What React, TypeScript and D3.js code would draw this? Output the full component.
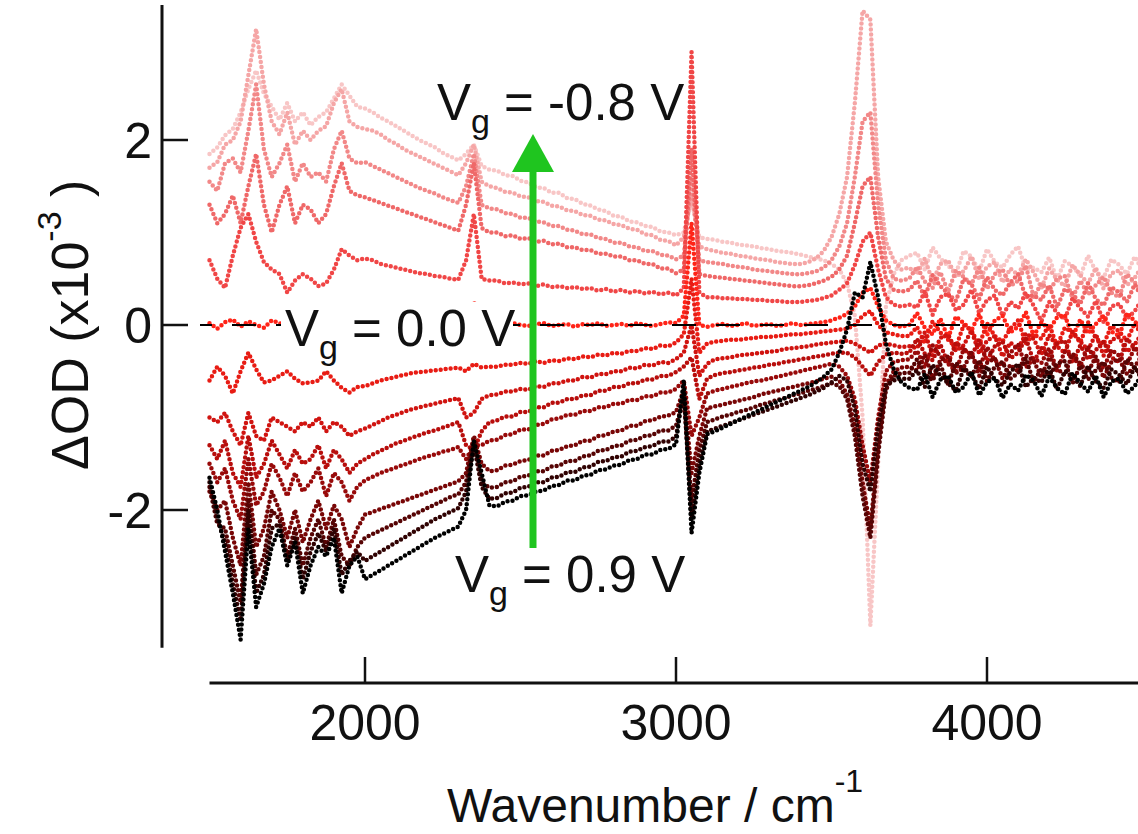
import React from "react";
import * as d3 from "d3";

// Wavenumber grid (cm^-1), 25 cm^-1 sampling
const wavenumbers: number[] = d3.range(1500, 4501, 25);

const gateVoltages = ["-0.8", "-0.7", "-0.6", "-0.5", "-0.3", "0.0", "0.2", "0.3", "0.4", "0.5", "0.6", "0.7", "0.8", "0.9"];
const seriesColors = ["#f8c6c6", "#f5a6a6", "#f28888", "#ef6868", "#f04646", "#ff2418", "#e81c14", "#d01410", "#b80e0c", "#980a0a", "#780606", "#560404", "#300202", "#000000"];

// ΔOD (x10^-3) for each gate voltage
const vgM08 = [1.85,1.92,2.05,2.12,2.3,2.55,2.75,2.5,2.36,2.22,2.4,2.2,2.3,2.16,2.25,2.3,2.45,2.6,2.48,2.36,2.34,
  2.3,2.24,2.2,2.15,2.1,2.05,2.0,1.96,1.92,1.86,1.82,1.78,1.85,1.95,1.72,1.68,
  1.67,1.62,1.61,1.56,1.54,1.49,1.48,1.43,1.43,1.37,1.36,1.31,1.29,1.25,1.23,1.18,1.17,1.12,1.11,1.07,1.06,1.01,1.0,0.97,
  1.0,1.35,0.95,0.93,
  0.92,0.9,0.89,0.87,0.86,0.85,0.83,0.82,0.8,0.79,0.78,0.76,0.74,0.72,0.7,0.66,
  0.6,0.45,0.1,-1.0,-3.25,-1.5,0.2,0.55,0.7,0.75,
  0.78,0.6,0.84,0.72,0.64,0.56,0.8,0.74,0.58,0.82,0.68,0.62,0.76,0.85,0.6,
  0.62,0.57,0.73,0.49,0.69,0.64,0.53,0.75,0.58,0.51,0.71,0.65,0.55,0.74,0.59];
const vgM07 = [1.7,1.76,1.95,2.0,2.2,2.7,3.2,2.6,2.2,2.06,2.3,1.95,2.1,2.0,2.1,2.15,2.4,2.55,2.2,2.14,2.12,
  2.1,2.06,2.0,1.96,1.9,1.86,1.82,1.78,1.74,1.7,1.66,1.62,1.75,1.95,1.55,1.5,
  1.48,1.44,1.43,1.39,1.38,1.34,1.33,1.29,1.28,1.24,1.23,1.19,1.18,1.14,1.13,1.09,1.08,1.04,1.03,0.98,0.97,0.92,0.91,0.86,
  0.95,1.4,0.85,0.82,
  0.8,0.78,0.77,0.75,0.74,0.72,0.71,0.7,0.68,0.67,0.66,0.66,0.68,0.72,0.8,0.95,
  1.2,1.6,2.4,3.4,3.3,1.6,0.9,0.7,0.6,0.62,
  0.55,0.72,0.47,0.66,0.7,0.52,0.58,0.74,0.49,0.63,0.68,0.46,0.61,0.54,0.71,
  0.57,0.4,0.61,0.49,0.42,0.65,0.54,0.45,0.62,0.39,0.56,0.59,0.43,0.51,0.64];
const vgM06 = [1.55,1.45,1.75,1.8,1.65,2.1,2.6,1.9,1.6,1.75,1.95,1.55,1.75,1.6,1.65,1.55,1.9,2.1,1.8,1.75,1.76,
  1.72,1.68,1.64,1.6,1.56,1.52,1.48,1.45,1.42,1.38,1.35,1.32,1.5,1.85,1.3,1.26,
  1.25,1.21,1.2,1.16,1.16,1.12,1.11,1.07,1.07,1.03,1.02,0.98,0.98,0.94,0.93,0.89,0.89,0.85,0.84,0.8,0.8,0.76,0.75,0.71,
  0.75,1.6,0.7,0.68,
  0.67,0.66,0.64,0.63,0.62,0.6,0.59,0.58,0.57,0.56,0.55,0.55,0.56,0.58,0.62,0.7,
  0.85,1.1,1.6,2.2,2.3,1.3,0.7,0.5,0.48,0.5,
  0.63,0.47,0.4,0.57,0.36,0.59,0.52,0.44,0.62,0.39,0.55,0.6,0.42,0.48,0.64,
  0.3,0.45,0.37,0.5,0.53,0.29,0.48,0.33,0.43,0.52,0.35,0.3,0.55,0.46,0.36];
const vgM05 = [1.3,1.1,1.2,1.4,1.1,1.5,1.85,1.3,1.0,1.3,1.5,1.1,1.3,1.25,1.1,1.2,1.5,1.75,1.45,1.4,1.38,
  1.35,1.32,1.29,1.26,1.23,1.2,1.17,1.14,1.11,1.08,1.05,1.02,1.3,1.75,1.05,1.0,
  1.0,0.96,0.97,0.93,0.94,0.9,0.91,0.87,0.88,0.84,0.84,0.81,0.81,0.77,0.77,0.74,0.74,0.7,0.7,0.66,0.66,0.61,0.61,0.56,
  0.6,1.9,0.55,0.53,
  0.52,0.51,0.5,0.49,0.48,0.47,0.46,0.45,0.44,0.43,0.42,0.42,0.43,0.45,0.48,0.52,
  0.6,0.75,1.1,1.5,1.6,0.95,0.5,0.38,0.36,0.38,
  0.48,0.3,0.54,0.42,0.34,0.26,0.5,0.44,0.28,0.52,0.38,0.32,0.46,0.55,0.3,
  0.32,0.27,0.43,0.19,0.39,0.34,0.23,0.45,0.28,0.21,0.41,0.35,0.25,0.44,0.29];
const vgM03 = [0.7,0.5,0.4,0.75,1.05,1.2,0.9,0.68,0.6,0.55,0.35,0.48,0.55,0.5,0.42,0.45,0.6,0.82,0.75,0.7,0.72,
  0.7,0.66,0.64,0.62,0.6,0.58,0.56,0.55,0.53,0.52,0.5,0.49,0.7,1.2,0.5,0.48,
  0.48,0.45,0.46,0.44,0.45,0.42,0.44,0.41,0.42,0.4,0.41,0.39,0.4,0.37,0.39,0.36,0.38,0.35,0.37,0.34,0.36,0.33,0.35,0.32,
  0.4,2.95,0.35,0.3,
  0.3,0.29,0.29,0.28,0.28,0.27,0.27,0.26,0.26,0.25,0.25,0.25,0.26,0.27,0.29,0.32,
  0.38,0.45,0.65,0.9,1.0,0.6,0.3,0.22,0.2,0.22,
  0.19,0.36,0.11,0.3,0.34,0.16,0.22,0.38,0.13,0.27,0.32,0.1,0.25,0.18,0.35,
  0.21,0.04,0.25,0.13,0.06,0.29,0.18,0.09,0.26,0.03,0.2,0.23,0.07,0.15,0.28];
const vg00 = [0.02,-0.04,0.03,0.06,-0.02,0.04,0.0,-0.03,0.05,0.02,-0.02,0.03,0.0,-0.02,0.02,0.0,0.03,-0.02,0.01,0.0,0.02,
  0.0,0.01,-0.01,0.02,0.0,-0.01,0.01,0.0,-0.02,0.01,0.0,0.02,0.1,0.25,0.02,0.0,
  0.01,-0.01,0.02,0.0,-0.01,0.01,0.02,-0.01,0.0,0.01,-0.02,0.01,0.0,0.02,-0.01,0.0,0.01,-0.01,0.02,0.0,-0.01,0.01,0.03,0.02,
  0.1,1.1,0.0,-0.02,
  0.0,0.01,-0.01,0.0,0.02,-0.01,0.0,0.01,-0.01,0.0,0.02,0.0,0.01,0.02,0.03,0.05,
  0.08,0.12,0.2,0.35,0.4,0.2,0.05,0.0,-0.02,0.0,
  0.13,-0.03,-0.1,0.07,-0.14,0.09,0.02,-0.06,0.12,-0.11,0.05,0.1,-0.08,-0.02,0.14,
  -0.12,0.03,-0.05,0.08,0.11,-0.13,0.06,-0.09,0.01,0.1,-0.07,-0.12,0.13,0.04,-0.06];
const vg02 = [-0.6,-0.45,-0.55,-0.74,-0.5,-0.3,-0.48,-0.62,-0.6,-0.55,-0.5,-0.58,-0.63,-0.62,-0.6,-0.5,-0.6,-0.68,-0.73,-0.67,-0.66,
  -0.63,-0.6,-0.58,-0.56,-0.54,-0.52,-0.51,-0.5,-0.49,-0.48,-0.47,-0.46,-0.5,-0.42,-0.46,-0.45,
  -0.45,-0.43,-0.43,-0.41,-0.42,-0.39,-0.41,-0.38,-0.39,-0.36,-0.37,-0.34,-0.35,-0.32,-0.33,-0.3,-0.31,-0.28,-0.28,-0.25,-0.26,-0.22,-0.23,-0.19,
  -0.1,0.5,-0.3,-0.2,
  -0.18,-0.17,-0.16,-0.16,-0.15,-0.14,-0.13,-0.13,-0.12,-0.11,-0.1,-0.1,-0.09,-0.08,-0.07,-0.06,
  -0.05,-0.04,0.0,0.1,0.15,0.0,-0.08,-0.1,-0.12,-0.12,
  -0.02,-0.2,0.04,-0.08,-0.16,-0.24,0.0,-0.06,-0.22,0.02,-0.12,-0.18,-0.04,0.05,-0.2,
  -0.1,-0.15,0.01,-0.23,-0.03,-0.08,-0.19,0.03,-0.14,-0.21,-0.01,-0.07,-0.17,0.02,-0.13];
const vg03 = [-1.0,-1.05,-0.95,-1.15,-1.3,-0.95,-1.2,-1.25,-1.0,-1.05,-1.1,-1.15,-1.05,-1.1,-1.0,-1.15,-1.05,-1.1,-1.2,-1.15,-1.12,
  -1.08,-1.04,-1.0,-0.97,-0.94,-0.91,-0.89,-0.87,-0.85,-0.83,-0.81,-0.79,-1.0,-0.95,-0.8,-0.76,
  -0.75,-0.72,-0.72,-0.69,-0.7,-0.66,-0.67,-0.63,-0.63,-0.6,-0.6,-0.56,-0.57,-0.53,-0.53,-0.5,-0.5,-0.46,-0.47,-0.43,-0.44,-0.4,-0.41,-0.37,
  -0.3,0.0,-0.55,-0.42,
  -0.37,-0.36,-0.35,-0.33,-0.32,-0.31,-0.3,-0.29,-0.28,-0.26,-0.25,-0.24,-0.23,-0.21,-0.2,-0.19,
  -0.18,-0.17,-0.2,-0.25,-0.3,-0.22,-0.2,-0.22,-0.24,-0.23,
  -0.25,-0.08,-0.33,-0.14,-0.1,-0.28,-0.22,-0.06,-0.31,-0.17,-0.12,-0.34,-0.19,-0.26,-0.09,
  -0.15,-0.32,-0.11,-0.23,-0.3,-0.07,-0.18,-0.27,-0.1,-0.33,-0.16,-0.13,-0.29,-0.21,-0.08];
const vg04 = [-1.3,-1.45,-1.25,-1.6,-1.75,-1.2,-1.65,-1.5,-1.25,-1.4,-1.55,-1.35,-1.5,-1.45,-1.3,-1.55,-1.35,-1.45,-1.6,-1.5,-1.45,
  -1.4,-1.36,-1.32,-1.28,-1.25,-1.22,-1.19,-1.16,-1.14,-1.11,-1.08,-1.05,-1.3,-1.35,-1.15,-1.05,
  -1.03,-0.99,-0.99,-0.94,-0.94,-0.89,-0.89,-0.84,-0.84,-0.8,-0.8,-0.76,-0.76,-0.71,-0.71,-0.67,-0.67,-0.63,-0.63,-0.59,-0.59,-0.55,-0.55,-0.51,
  -0.45,-0.35,-0.8,-0.58,
  -0.54,-0.52,-0.51,-0.49,-0.48,-0.46,-0.45,-0.43,-0.42,-0.4,-0.39,-0.37,-0.36,-0.34,-0.33,-0.31,
  -0.3,-0.3,-0.35,-0.45,-0.55,-0.4,-0.32,-0.3,-0.31,-0.3,
  -0.15,-0.31,-0.38,-0.21,-0.42,-0.19,-0.26,-0.34,-0.16,-0.39,-0.23,-0.18,-0.36,-0.3,-0.14,
  -0.4,-0.25,-0.33,-0.2,-0.17,-0.41,-0.22,-0.37,-0.27,-0.18,-0.35,-0.4,-0.15,-0.24,-0.34];
const vg05 = [-1.5,-1.7,-1.55,-1.9,-2.1,-1.45,-1.95,-1.8,-1.5,-1.65,-1.85,-1.6,-1.8,-1.7,-1.55,-1.85,-1.6,-1.7,-1.9,-1.75,-1.68,
  -1.64,-1.6,-1.57,-1.54,-1.51,-1.48,-1.45,-1.42,-1.4,-1.37,-1.35,-1.32,-1.45,-1.3,-1.3,-1.25,
  -1.24,-1.19,-1.18,-1.13,-1.13,-1.08,-1.07,-1.02,-1.01,-0.97,-0.97,-0.93,-0.93,-0.89,-0.89,-0.85,-0.85,-0.81,-0.81,-0.77,-0.77,-0.73,-0.73,-0.69,
  -0.6,-1.2,-1.0,-0.74,
  -0.71,-0.69,-0.67,-0.65,-0.63,-0.61,-0.6,-0.58,-0.56,-0.54,-0.52,-0.5,-0.48,-0.46,-0.44,-0.42,
  -0.45,-0.55,-0.8,-1.3,-1.7,-1.0,-0.5,-0.4,-0.38,-0.37,
  -0.28,-0.46,-0.22,-0.34,-0.42,-0.5,-0.26,-0.32,-0.48,-0.24,-0.38,-0.44,-0.3,-0.21,-0.46,
  -0.36,-0.41,-0.25,-0.49,-0.29,-0.34,-0.45,-0.23,-0.4,-0.47,-0.27,-0.33,-0.43,-0.24,-0.39];
const vg06 = [-1.8,-2.0,-1.9,-2.3,-2.6,-1.7,-2.4,-2.2,-1.8,-2.0,-2.3,-2.0,-2.35,-2.1,-1.9,-2.2,-1.95,-2.1,-2.4,-2.2,-2.05,
  -2.02,-1.99,-1.96,-1.93,-1.9,-1.87,-1.84,-1.81,-1.78,-1.75,-1.72,-1.69,-1.6,-1.2,-1.5,-1.58,
  -1.57,-1.52,-1.51,-1.47,-1.46,-1.41,-1.41,-1.36,-1.35,-1.31,-1.3,-1.25,-1.25,-1.2,-1.19,-1.15,-1.14,-1.09,-1.09,-1.04,-1.03,-0.99,-0.98,-0.94,
  -0.7,-1.6,-1.2,-0.9,
  -0.88,-0.86,-0.84,-0.82,-0.8,-0.78,-0.75,-0.73,-0.71,-0.69,-0.67,-0.65,-0.63,-0.61,-0.58,-0.56,
  -0.6,-0.75,-1.1,-1.7,-2.2,-1.3,-0.65,-0.5,-0.46,-0.45,
  -0.49,-0.32,-0.57,-0.38,-0.34,-0.52,-0.46,-0.3,-0.55,-0.41,-0.36,-0.58,-0.43,-0.5,-0.33,
  -0.39,-0.56,-0.35,-0.47,-0.54,-0.31,-0.42,-0.51,-0.34,-0.57,-0.4,-0.37,-0.53,-0.45,-0.32];
const vg07 = [-1.75,-2.15,-2.2,-2.6,-3.0,-1.9,-2.7,-2.5,-2.0,-2.1,-2.5,-2.2,-2.6,-2.3,-2.1,-2.4,-2.1,-2.5,-2.6,-2.4,-2.3,
  -2.26,-2.22,-2.18,-2.14,-2.1,-2.06,-2.02,-1.98,-1.94,-1.9,-1.86,-1.83,-1.7,-1.25,-1.7,-1.76,
  -1.75,-1.7,-1.69,-1.64,-1.63,-1.58,-1.58,-1.53,-1.52,-1.47,-1.47,-1.42,-1.41,-1.36,-1.35,-1.31,-1.3,-1.25,-1.24,-1.2,-1.19,-1.14,-1.14,-1.09,
  -0.8,-1.9,-1.35,-1.05,
  -1.02,-0.99,-0.97,-0.94,-0.92,-0.89,-0.86,-0.84,-0.81,-0.79,-0.76,-0.74,-0.71,-0.69,-0.66,-0.63,
  -0.66,-0.8,-1.2,-1.85,-2.3,-1.4,-0.7,-0.55,-0.52,-0.52,
  -0.37,-0.53,-0.6,-0.43,-0.64,-0.41,-0.48,-0.56,-0.38,-0.61,-0.45,-0.4,-0.58,-0.52,-0.36,
  -0.62,-0.47,-0.55,-0.42,-0.39,-0.63,-0.44,-0.59,-0.49,-0.4,-0.57,-0.62,-0.37,-0.46,-0.56];
const vg08 = [-1.7,-2.1,-2.35,-2.8,-3.2,-2.0,-2.9,-2.7,-2.2,-2.15,-2.55,-2.3,-2.75,-2.45,-2.25,-2.45,-2.2,-2.7,-2.55,-2.45,-2.55,
  -2.5,-2.45,-2.4,-2.35,-2.3,-2.25,-2.2,-2.15,-2.1,-2.06,-2.02,-1.98,-1.8,-1.3,-1.75,-1.88,
  -1.87,-1.82,-1.81,-1.76,-1.75,-1.7,-1.7,-1.65,-1.64,-1.59,-1.59,-1.54,-1.53,-1.48,-1.47,-1.43,-1.42,-1.37,-1.36,-1.32,-1.31,-1.26,-1.26,-1.21,
  -0.7,-2.1,-1.5,-1.15,
  -1.12,-1.09,-1.06,-1.03,-1.0,-0.97,-0.94,-0.91,-0.88,-0.85,-0.82,-0.79,-0.76,-0.72,-0.68,-0.62,
  -0.55,-0.6,-0.9,-1.5,-1.8,-1.1,-0.65,-0.6,-0.58,-0.58,
  -0.49,-0.67,-0.43,-0.55,-0.63,-0.71,-0.47,-0.53,-0.69,-0.45,-0.59,-0.65,-0.51,-0.42,-0.67,
  -0.57,-0.62,-0.46,-0.7,-0.5,-0.55,-0.66,-0.44,-0.61,-0.68,-0.48,-0.54,-0.64,-0.45,-0.6];
const vg09 = [-1.65,-2.0,-2.45,-2.9,-3.4,-2.2,-3.05,-2.8,-2.4,-2.2,-2.6,-2.35,-2.9,-2.6,-2.4,-2.5,-2.3,-2.9,-2.6,-2.5,-2.75,
  -2.7,-2.65,-2.6,-2.55,-2.5,-2.45,-2.4,-2.35,-2.3,-2.26,-2.22,-2.18,-2.0,-1.25,-1.6,-1.95,
  -1.96,-1.91,-1.9,-1.85,-1.84,-1.8,-1.79,-1.74,-1.73,-1.68,-1.68,-1.63,-1.62,-1.57,-1.56,-1.52,-1.51,-1.46,-1.45,-1.4,-1.4,-1.35,-1.34,-1.29,
  -0.6,-2.25,-1.6,-1.18,
  -1.15,-1.11,-1.07,-1.03,-0.99,-0.95,-0.91,-0.87,-0.83,-0.79,-0.75,-0.71,-0.67,-0.62,-0.56,-0.48,
  -0.3,-0.05,0.35,0.3,0.68,0.3,-0.2,-0.48,-0.62,-0.68,
  -0.7,-0.53,-0.78,-0.59,-0.55,-0.73,-0.67,-0.51,-0.76,-0.62,-0.57,-0.79,-0.64,-0.71,-0.54,
  -0.6,-0.77,-0.56,-0.68,-0.75,-0.52,-0.63,-0.72,-0.55,-0.78,-0.61,-0.58,-0.74,-0.66,-0.53];

const spectra = [vgM08, vgM07, vgM06, vgM05, vgM03, vg00, vg02, vg03, vg04, vg05, vg06, vg07, vg08, vg09];

const xTicks = [2000, 3000, 4000];
const yTicks = [-2, 0, 2];

const FONT = "'Liberation Sans', Arial, Helvetica, sans-serif";

export default function App() {
  const W = 1138;
  const H = 834;
  const x = d3.scaleLinear().domain([1500, 4500]).range([209.5, 1142.5]);
  const y = d3.scaleLinear().domain([-3.5, 3.5]).range([648.75, 1.25]);
  const line = d3
    .line<number>()
    .x((_, i) => x(wavenumbers[i]))
    .y((d) => y(d));

  const axisLeftX = 162;
  const axisBottomY = 683;
  const tickLen = 26;

  return (
    <svg
      width={W}
      height={H}
      viewBox={`0 0 ${W} ${H}`}
      style={{ position: "absolute", left: 0, top: 0, background: "#fff" }}
      fontFamily={FONT}
    >
      <defs>
        <clipPath id="plotClip">
          <rect x={200} y={0} width={W - 200} height={660} />
        </clipPath>
      </defs>
      <rect x={0} y={0} width={W} height={H} fill="#fff" />

      <g clipPath="url(#plotClip)">
        {spectra.map((vals, k) => (
          <path
            key={gateVoltages[k]}
            d={line(vals.slice(0, wavenumbers.length)) || ""}
            fill="none"
            stroke={seriesColors[k]}
            strokeWidth={4.5}
            strokeLinecap="round"
            strokeLinejoin="round"
            strokeDasharray="0 5"
          />
        ))}
        {/* zero reference line */}
        <line
          x1={axisLeftX + tickLen}
          x2={W}
          y1={y(0)}
          y2={y(0)}
          stroke="#000"
          strokeWidth={2}
          strokeDasharray="24 20"
        />
      </g>

      {/* white box behind the 0.0 V label */}
      <rect x={281} y={302} width={232} height={52} fill="#fff" />

      {/* annotation labels */}
      <text x={437} y={120} fontSize={51} fill="#111">
        V<tspan fontSize={34} dy={13}>g</tspan>
        <tspan dy={-13}>{" = -0.8 V"}</tspan>
      </text>
      <text x={285} y={346} fontSize={51} fill="#111">
        V<tspan fontSize={34} dy={13}>g</tspan>
        <tspan dy={-13}>{" = 0.0 V"}</tspan>
      </text>
      <text x={455} y={592} fontSize={51} fill="#111">
        V<tspan fontSize={34} dy={13}>g</tspan>
        <tspan dy={-13}>{" = 0.9 V"}</tspan>
      </text>

      {/* green arrow */}
      <line x1={533} x2={533} y1={548} y2={168} stroke="#1fc51f" strokeWidth={7} />
      <polygon points="533,134 512,172 554,172" fill="#1fc51f" />

      {/* y axis */}
      <line x1={axisLeftX} x2={axisLeftX} y1={y(3.46)} y2={y(-3.49)} stroke="#111" strokeWidth={3} />
      {yTicks.map((t) => (
        <g key={t}>
          <line x1={axisLeftX} x2={axisLeftX + tickLen} y1={y(t)} y2={y(t)} stroke="#111" strokeWidth={2.5} />
          <text x={152} y={y(t) + 18} fontSize={50} textAnchor="end" fill="#111">
            {t}
          </text>
        </g>
      ))}
      <text transform={`translate(88, 470) rotate(-90)`} fontSize={52} fill="#111">
        ΔOD (x10<tspan fontSize={34} dy={-27}>-3</tspan>
        <tspan dy={27}>{" )"}</tspan>
      </text>

      {/* x axis */}
      <line x1={x(1500)} x2={W} y1={axisBottomY} y2={axisBottomY} stroke="#111" strokeWidth={3} />
      {xTicks.map((t) => (
        <g key={t}>
          <line x1={x(t)} x2={x(t)} y1={axisBottomY} y2={axisBottomY - tickLen} stroke="#111" strokeWidth={2.5} />
          <text x={x(t)} y={740} fontSize={50} textAnchor="middle" fill="#111">
            {t}
          </text>
        </g>
      ))}
      <text x={447} y={822} fontSize={48} fill="#111">
        Wavenumber / cm<tspan fontSize={32} dy={-30}>-1</tspan>
      </text>
    </svg>
  );
}
